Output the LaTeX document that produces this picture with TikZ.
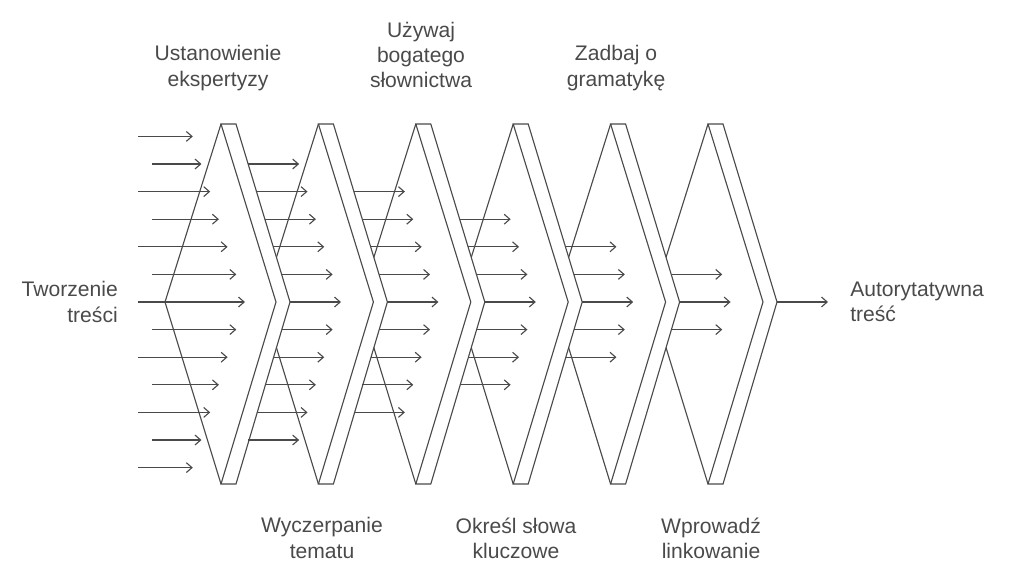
\documentclass[tikz,border=0pt]{standalone}
\usepackage{fontspec}
\setmainfont{Liberation Sans}
\usetikzlibrary{arrows.meta}
\definecolor{ink}{HTML}{4A4A4A}
\begin{document}
\begin{tikzpicture}[x=0.025cm, y=-0.025cm, line width=0.8pt, draw=ink, >={Straight Barb[length=4pt,width=7pt]},
	lbl/.style={text=ink, align=center, font=\fontsize{15}{18}\selectfont}]

\useasboundingbox (0,0) rectangle (1024,581);

% stages, back to front
\foreach \k in {5,4,...,0} {
	\pgfmathsetmacro{\xt}{221 + 97.4 * \k}
	\fill[white] (\xt, 124) -- (\xt + 15, 124) -- (\xt + 69, 302) -- (\xt + 15, 484) -- (\xt, 484) -- (\xt - 56, 302) -- cycle;
	\draw[ink] (\xt, 124) -- (\xt + 15, 124) -- (\xt + 69, 302) -- (\xt + 15, 484) -- (\xt, 484) -- (\xt + 55, 302) -- cycle;
	\draw[ink] (\xt, 124) -- (\xt - 56, 302) -- (\xt, 484);
}

% input arrows
\foreach \j in {-6,...,6} {
	\pgfmathsetmacro{\yy}{302 + 27.6 * \j}
	\pgfmathsetmacro{\xs}{isodd(\j) ? 152 : 138}
	\pgfmathsetmacro{\xe}{245 - 8.7 * abs(\j)}
	\draw[->, ink] (\xs, \yy) -- (\xe, \yy);
}

% arrows behind each stage
\foreach \k in {1,...,6} {
	\pgfmathtruncatemacro{\n}{6 - \k}
	\foreach \j in {-\n,...,\n} {
		\pgfmathsetmacro{\yy}{302 + 27.6 * \j}
		\pgfmathsetmacro{\xs}{236 + 97.4 * (\k - 1) + (178 - 27.6 * abs(\j)) * 54 / 178}
		\draw[->, ink] (\xs, \yy) -- (\xs + 51, \yy);
	}
}

\node[lbl, align=right, anchor=east] (start) at (123, 302) {Tworzenie\\treści};
\node[lbl, align=left, anchor=west] (goal) at (845, 302) {Autorytatywna\\treść};

\node[lbl] (s1) at (218, 68) {Ustanowienie\\ekspertyzy};
\node[lbl] (s3) at (421, 55) {Używaj\\bogatego\\słownictwa};
\node[lbl] (s5) at (616, 68) {Zadbaj o\\gramatykę};

\node[lbl] (s2) at (322, 538) {Wyczerpanie\\tematu};
\node[lbl] (s4) at (516, 538) {Określ słowa\\kluczowe};
\node[lbl] (s6) at (711, 538) {Wprowadź\\linkowanie};

\end{tikzpicture}
\end{document}
